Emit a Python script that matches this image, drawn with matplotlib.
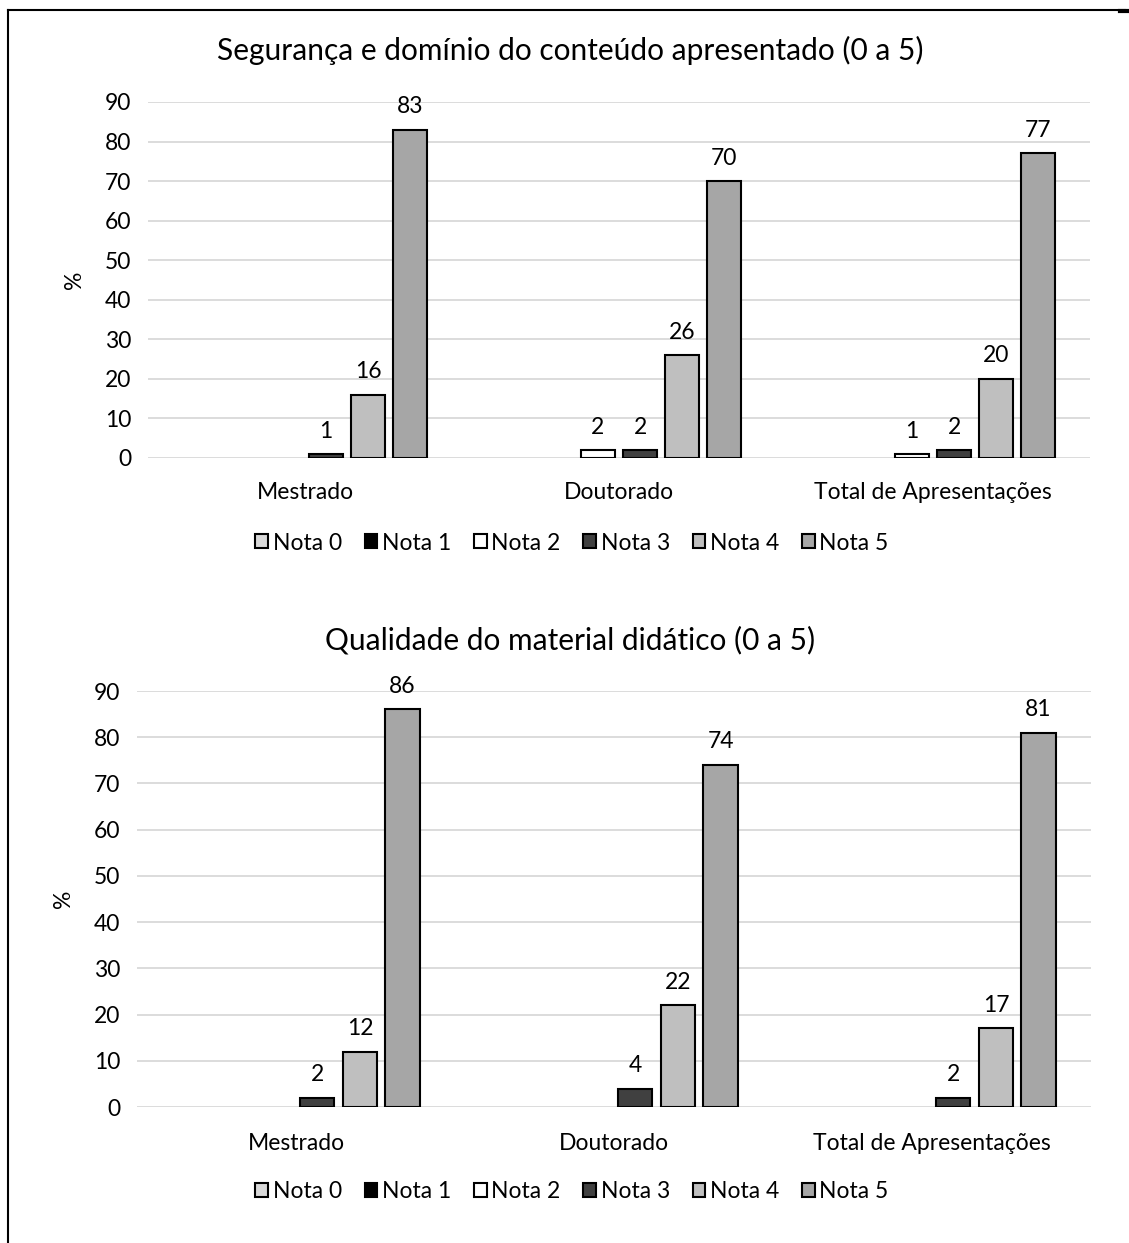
import numpy as np
import matplotlib.pyplot as plt
from matplotlib.lines import Line2D
from matplotlib.patches import Patch

plt.rcParams['font.family'] = ['Lato', 'DejaVu Sans']

categorias = ['Mestrado', 'Doutorado', 'Total de Apresentações']
notas = ['Nota 0', 'Nota 1', 'Nota 2', 'Nota 3', 'Nota 4', 'Nota 5']
cores = ['#D9D9D9', '#000000', '#FFFFFF', '#404040', '#BFBFBF', '#A6A6A6']

# % por nota, uma lista por categoria (Mestrado, Doutorado, Total)
seguranca = {
    'Nota 0': [0, 0, 0],
    'Nota 1': [0, 0, 0],
    'Nota 2': [0, 2, 1],
    'Nota 3': [1, 2, 2],
    'Nota 4': [16, 26, 20],
    'Nota 5': [83, 70, 77],
}
material = {
    'Nota 0': [0, 0, 0],
    'Nota 1': [0, 0, 0],
    'Nota 2': [0, 0, 0],
    'Nota 3': [2, 4, 2],
    'Nota 4': [12, 22, 17],
    'Nota 5': [86, 74, 81],
}
titulos = ['Segurança e domínio do conteúdo apresentado (0 a 5)',
           'Qualidade do material didático (0 a 5)']

W, H = 1129, 1243
fig = plt.figure(figsize=(W / 100, H / 100), dpi=100)


def px(l, t, r, b):
    return [l / W, 1 - b / H, (r - l) / W, (b - t) / H]


def grafico(ax, dados, titulo, y_titulo, y_legenda, pad_x):
    x = np.arange(len(categorias))
    passo, largura = 0.134, 0.108
    for i, nota in enumerate(notas):
        vals = dados[nota]
        barras = ax.bar(x + (i - 2.5) * passo, vals, largura, color=cores[i],
                        edgecolor='black', linewidth=1.5, zorder=3)
        for b, v in zip(barras, vals):
            if v == 0:
                b.set_visible(False)
                continue
            ax.annotate(str(v), (b.get_x() + b.get_width() / 2, v),
                        xytext=(0, 9), textcoords='offset points',
                        ha='center', va='bottom', fontsize=16.5)
    ax.set_xlim(-0.5, 2.5)
    ax.set_ylim(0, 90)
    ax.set_yticks(range(0, 91, 10))
    ax.set_xticks(x)
    ax.set_xticklabels(categorias)
    ax.yaxis.grid(True, color='#D9D9D9', linewidth=1.3, zorder=0)
    ax.set_axisbelow(True)
    for s in ax.spines.values():
        s.set_visible(False)
    ax.tick_params(length=0, labelsize=16.5)
    ax.tick_params(axis='x', pad=pad_x)
    ax.tick_params(axis='y', pad=12)
    ax.set_ylabel('%', fontsize=16.5, labelpad=14)
    fig.text(570 / W, 1 - y_titulo / H, titulo, ha='center', va='center',
             fontsize=21.5)
    h = [Patch(facecolor=c, edgecolor='black', linewidth=1.5) for c in cores]
    fig.legend(h, notas, loc='center', bbox_to_anchor=(572 / W, 1 - y_legenda / H),
               ncol=6, frameon=False, fontsize=16.5, handlelength=0.55,
               handleheight=0.55, handletextpad=0.2, columnspacing=1.0)


ax1 = fig.add_axes(px(148, 102, 1090, 458))
grafico(ax1, seguranca, titulos[0], 50, 543, 17)
ax2 = fig.add_axes(px(137, 691, 1091, 1107))
grafico(ax2, material, titulos[1], 640, 1192, 19)

# moldura parcial
fig.add_artist(Line2D([8 / W, 8 / W], [1 - 10 / H, 0], color='black', lw=1.5))
fig.add_artist(Line2D([8 / W, 1125 / W], [1 - 10 / H, 1 - 10 / H],
                      color='black', lw=1.5))
fig.add_artist(Line2D([1120 / W, 1129 / W], [1 - 11 / H, 1 - 11 / H],
                      color='black', lw=3))

fig.savefig('out.png', dpi=100)
